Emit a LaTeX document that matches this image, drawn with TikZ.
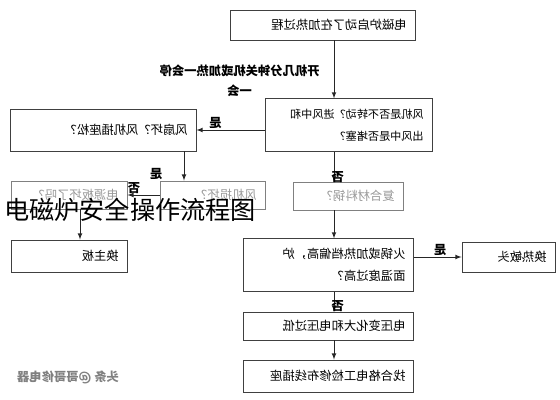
\documentclass[tikz,border=0pt]{standalone}
\usepackage{fontspec}
\setmainfont{Noto Sans CJK SC}
\usepackage{graphicx}
\newcommand{\flipped}[1]{\reflectbox{#1}}

\begin{document}
\begin{tikzpicture}[x=0.03cm, y=-0.03cm, >=latex,
        box/.style={draw=black!75, line width=0.8pt, rectangle, align=right, inner xsep=0.25cm, font=\fontsize{10.5}{19}\selectfont},
        faint/.style={box, draw=black!50, text=black!40},
        arr/.style={->, draw=black!85, line width=0.8pt},
        lbl/.style={font=\fontsize{10.5}{12}\selectfont\bfseries, inner sep=1pt}]
            \useasboundingbox (0,0) rectangle (560,400);
            \coordinate (mainx) at (334,0);
            \coordinate (fanx) at (184,0);
            \coordinate (boardx) at (80,0);

            \node[box, text width=5.05cm, minimum height=0.9cm] (start) at (322.5,25) {\flipped{电磁炉启动了在加热过程}};
            \node[box, text width=4.51cm, minimum height=1.5cm, font=\fontsize{9.5}{19}\selectfont] (cause) at (348.5,125) {\flipped{\begin{tabular}{@{}l@{}}风机是否不转动？进风中和\\出风中是否堵塞？\end{tabular}}};
            \node[box, text width=5.08cm, minimum height=1.26cm] (fan) at (103,130) {\flipped{风扇坏？风机插座松？}};
            \node[faint, text width=2.98cm, minimum height=0.84cm] (power) at (69,195) {\flipped{电源板坏了吗？}};
            \node[faint, text width=2.65cm, minimum height=0.84cm] (motor) at (212.5,195) {\flipped{风机损坏？}};
            \node[box, text width=2.98cm, minimum height=0.96cm] (board) at (69,256) {\flipped{换主板}};
            \node[faint, text width=2.8cm, minimum height=0.84cm] (pot) at (348,196) {\flipped{复合材料锅？}};
            \node[box, text width=4.62cm, minimum height=1.5cm] (heat) at (328.5,265) {\flipped{\begin{tabular}{@{}l@{}}火锅或加热档偏高，炉\\面温度过高？\end{tabular}}};
            \node[box, text width=2.29cm, minimum height=0.9cm] (sensor) at (508.5,257) {\flipped{换热敏头}};
            \node[box, text width=4.62cm, minimum height=0.84cm] (volt) at (328.5,326) {\flipped{电压变化大和电压过低}};
            \node[box, text width=4.62cm, minimum height=0.96cm] (fix) at (328.5,376) {\flipped{找合格电工检修布线插座}};

            \draw[arr] (start.south -| mainx) -- node[midway, left=0.3cm, yshift=-0.36cm, align=center, font=\fontsize{10.5}{17}\selectfont\bfseries] (stoplbl) {\flipped{\begin{tabular}{@{}c@{}}开机几分钟关机或加热一会停\\一会\end{tabular}}} (cause.north -| mainx);
            \draw[arr] (cause.west |- fan.east) -- node[lbl, pos=0.72, above] {\flipped{是}} (fan.east);
            \draw[arr] (cause.south -| mainx) -- node[lbl, at end, right, xshift=-0.12cm, yshift=0.12cm] {\flipped{否}} (pot.north -| mainx);
            \draw[arr] (fan.south -| fanx) -- node[lbl, at end, left=0.6cm, yshift=0.2cm] {\flipped{是}} (motor.north -| fanx);
            \draw[arr] (motor.west) -- node[lbl, pos=0.8, above] {\flipped{否}} (power.east);
            \draw[arr] (power.south -| boardx) -- (board.north -| boardx);
            \draw[arr] (pot.south -| mainx) -- (heat.north -| mainx);
            \draw[arr] (heat.east |- sensor.west) -- node[lbl, pos=0.55, above] {\flipped{是}} (sensor.west);
            \draw[arr] (heat.south -| mainx) -- node[lbl, at end, right, xshift=-0.12cm, yshift=0.15cm] {\flipped{否}} (volt.north -| mainx);
            \draw[arr] (volt.south -| mainx) -- (fix.north -| mainx);

            \node[text=black!50, font=\fontsize{10.5}{12}\selectfont\bfseries] (mark) at (68,377) {\flipped{头条 @哥哥修电器}};
            \node[font=\fontsize{21.5}{24}\selectfont, inner sep=0pt] (title) at (130,210) {电磁炉安全操作流程图};
        \end{tikzpicture}
\end{document}
